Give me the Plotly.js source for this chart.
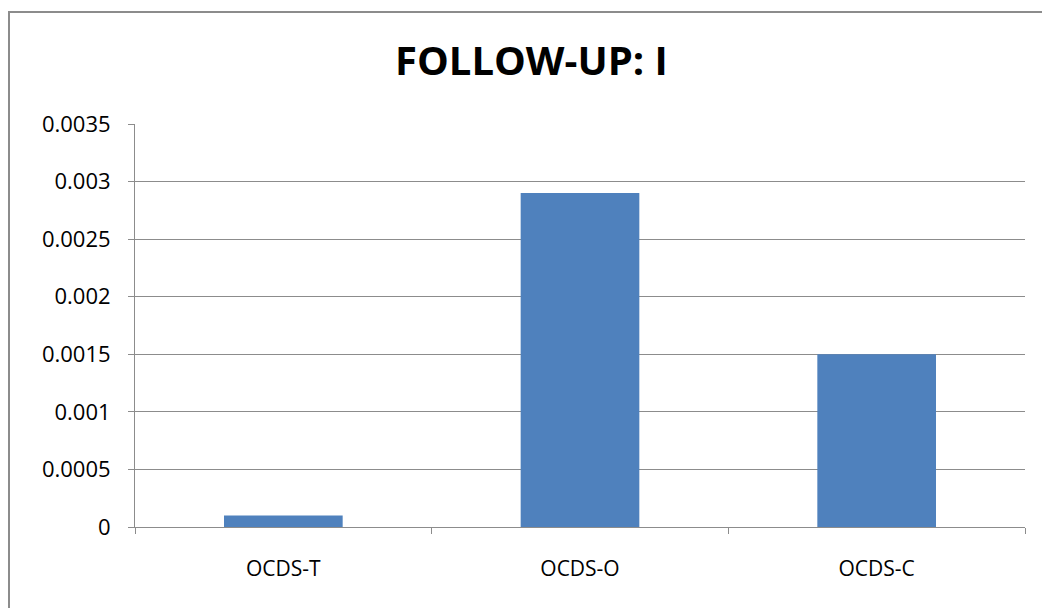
<!DOCTYPE html>
<html><head><meta charset="utf-8">
<script src="https://cdn.plot.ly/plotly-3.0.1.min.js"></script>
<style>
body{margin:0;background:#fff;}
#wrap{position:relative;width:1042px;height:608px;}
#chart{position:absolute;left:0;top:0;width:1042px;height:608px;}
#frame{position:absolute;left:8px;top:11px;width:1100px;height:700px;border-left:2px solid #8c8c8c;border-top:2px solid #8c8c8c;pointer-events:none;}
</style></head>
<body><div id="wrap"><div id="chart"></div><div id="frame"></div></div>
<script>
const categories = ["OCDS-T", "OCDS-O", "OCDS-C"];
const values = [0.0001, 0.0029, 0.0015];
const yTickVals = [0, 0.0005, 0.001, 0.0015, 0.002, 0.0025, 0.003, 0.0035];
const yTickText = ["0", "0.0005", "0.001", "0.0015", "0.002", "0.0025", "0.003", "0.0035"];
const chartTitle = "FOLLOW-UP: I";

const font = "'Open Sans', sans-serif";
Plotly.newPlot("chart", [{
  type: "bar",
  x: categories,
  y: values,
  marker: {color: "#4f81bd"},
  hoverinfo: "x+y"
}], {
  width: 1042, height: 608,
  margin: {l: 135, r: 17, t: 124, b: 81},
  paper_bgcolor: "rgba(0,0,0,0)",
  plot_bgcolor: "#fff",
  bargap: 0.6,
  showlegend: false,
  title: {text: "<b>" + chartTitle + "</b>", x: 0.51, xref: "container", xanchor: "center", y: 0.9, yref: "container", yanchor: "middle",
          font: {family: font, size: 40, color: "#000"}},
  xaxis: {
    type: "category",
    tickson: "boundaries",
    ticks: "outside", ticklen: 6, tickcolor: "#8c8c8c", tickwidth: 1,
    showline: true, linecolor: "#8c8c8c", linewidth: 1,
    showgrid: false, zeroline: false,
    ticklabelstandoff: 23,
    tickfont: {family: font, size: 21, color: "#000"},
    mirror: false
  },
  yaxis: {
    range: [0, 0.0035],
    tickvals: yTickVals, ticktext: yTickText,
    ticks: "outside", ticklen: 6, tickcolor: "#8c8c8c", tickwidth: 1,
    showline: true, linecolor: "#8c8c8c", linewidth: 1,
    showgrid: true, gridcolor: "#8c8c8c", gridwidth: 1,
    zeroline: false,
    ticklabelstandoff: 13,
    tickfont: {family: font, size: 22, color: "#000"}
  }
}, {displayModeBar: false});
</script></body></html>
